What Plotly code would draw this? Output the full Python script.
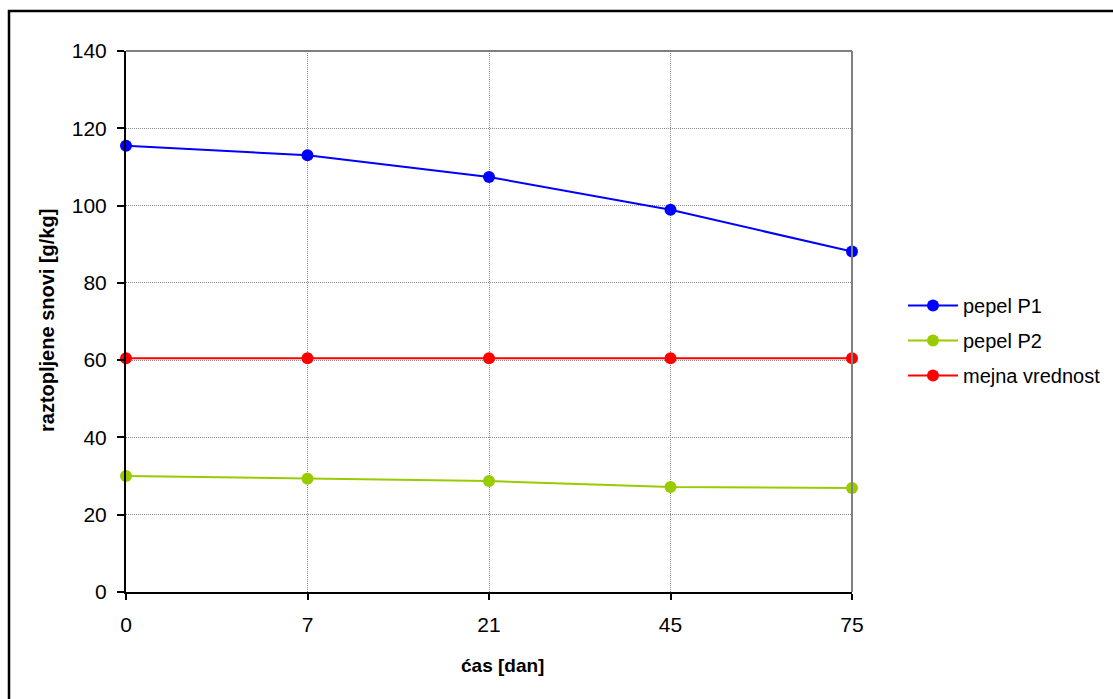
import plotly.graph_objects as go

# Sampling days (shown as evenly spaced categories)
days = ["0", "7", "21", "45", "75"]

# Dissolved solids [g/kg]
pepel_p1 = [115.5, 113.0, 107.4, 98.9, 88.1]
pepel_p2 = [30.0, 29.3, 28.7, 27.2, 26.9]
mejna_vrednost = [60.5, 60.5, 60.5, 60.5, 60.5]

y_ticks = [0, 20, 40, 60, 80, 100, 120, 140]

pos = list(range(len(days)))

series = [
    ("pepel P1", pepel_p1, "#0000FF"),
    ("pepel P2", pepel_p2, "#99CC00"),
    ("mejna vrednost", mejna_vrednost, "#FF0000"),
]

fig = go.Figure()
for name, vals, color in series:
    fig.add_trace(go.Scatter(
        x=pos, y=vals, name=name, mode="lines+markers",
        legendgroup=name,
        line=dict(color=color, width=2),
        marker=dict(color=color, size=12),
        cliponaxis=False,
    ))

W, H = 1113, 699
L, R, T, B = 126, 261, 51, 107
pw, ph = W - L - R, H - T - B


def px_x(p):
    return (p - L) / pw


def px_y(p):
    return (H - B - p) / ph


font = "Liberation Sans, Arial, sans-serif"
grid_dash = "1px,1px"

fig.update_layout(
    width=W, height=H,
    margin=dict(l=L, r=R, t=T, b=B, autoexpand=False),
    paper_bgcolor="white", plot_bgcolor="white",
    font=dict(family=font, size=20, color="black"),
    showlegend=True,
    legend=dict(
        x=px_x(903), y=px_y(286), xanchor="left", yanchor="top",
        font=dict(family=font, size=20, color="black"),
        bgcolor="rgba(0,0,0,0)", tracegroupgap=6, itemwidth=50,
    ),
    xaxis=dict(
        range=[0, len(days) - 1],
        tickmode="array", tickvals=pos, ticktext=days,
        showgrid=True, gridcolor="#8c8c8c", griddash=grid_dash, gridwidth=1,
        showline=True, linecolor="black", linewidth=2,
        ticks="outside", ticklen=6, tickcolor="black", tickwidth=2,
        ticklabelstandoff=7,
        tickfont=dict(size=21),
        zeroline=False,
    ),
    yaxis=dict(
        range=[0, 140],
        tickmode="array", tickvals=y_ticks,
        showgrid=True, gridcolor="#8c8c8c", griddash=grid_dash, gridwidth=1,
        showline=True, linecolor="black", linewidth=2,
        ticks="outside", ticklen=7, tickcolor="black", tickwidth=2,
        ticklabelstandoff=6,
        tickfont=dict(size=21),
        zeroline=False,
    ),
    annotations=[
        dict(text="<b>ćas [dan]</b>", xref="paper", yref="paper",
             x=px_x(502), y=px_y(665), xanchor="center", yanchor="middle",
             showarrow=False, font=dict(size=19)),
        dict(text="<b>raztopljene snovi [g/kg]</b>", xref="paper", yref="paper",
             x=px_x(47), y=px_y(321), xanchor="center", yanchor="middle",
             textangle=-90, showarrow=False, font=dict(size=20)),
    ],
    shapes=[
        # gray plot-area border on top and right
        dict(type="line", xref="paper", yref="paper", x0=0, x1=1, y0=1, y1=1,
             line=dict(color="#808080", width=2)),
        dict(type="line", xref="paper", yref="paper", x0=1, x1=1, y0=0, y1=1,
             line=dict(color="#808080", width=2)),
        # outer chart frame
        dict(type="rect", xref="paper", yref="paper",
             x0=px_x(9), x1=px_x(W + 10), y0=px_y(11), y1=px_y(H + 10),
             line=dict(color="black", width=2.5), layer="below"),
    ],
)

fig.write_html("out.html")
